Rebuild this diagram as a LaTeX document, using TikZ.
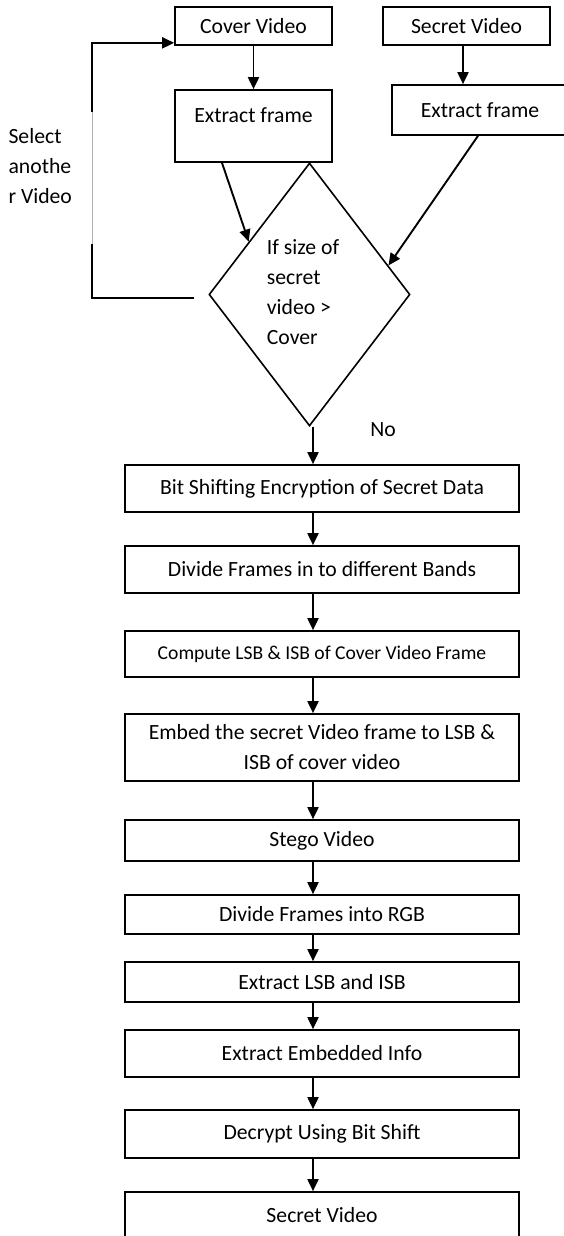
\documentclass[tikz,border=0pt]{standalone}
\usepackage{fontspec}
\setmainfont{Carlito}
\usetikzlibrary{arrows.meta,calc,shapes.geometric}

\begin{document}
\begin{tikzpicture}[x=1pt,y=-1pt,
		box/.style={draw, line width=1.7pt, inner sep=0pt, minimum width=394pt},
		arr/.style={-{Triangle[length=12pt,width=11pt]}, line width=1.9pt},
		txt/.style={font=\fontsize{21.7}{30}\selectfont}]
		\useasboundingbox (0,0) rectangle (563,1236);

		% top row
		\node[box, txt, minimum width=157pt, minimum height=38pt] (cover) at (253.5,26) {Cover Video};
		\node[box, txt, minimum width=167pt, minimum height=38pt] (secret) at (466.5,26) {Secret Video};
		\node[box, minimum width=157pt, minimum height=72pt] (frameL) at (253.5,126) {};
		\node[txt] (frameLtxt) at (253.5,115) {Extract frame};
		\node[box, txt, minimum width=176pt, minimum height=50pt] (frameR) at (480,110) {Extract frame};

		% size check
		\node[draw, diamond, line width=1.6pt, inner sep=0pt, minimum width=201pt, minimum height=263pt] (check) at (309.5,294.5) {};
		\node[txt, align=left] (cond) at (303,292) {If size of\\secret\\video >\\Cover};
		\node[txt, align=left, anchor=west] (reselect) at (5,166) {Select\\anothe\\r Video};
		\node[txt] (no) at (383,430) {No};

		% main column
		\node[box, txt, minimum height=47pt] (encrypt) at (322,488.5) {Bit Shifting Encryption of Secret Data};
		\node[box, txt, minimum height=47pt] (bands) at (322,569.5) {Divide Frames in to different Bands};
		\node[box, minimum height=46pt, font=\fontsize{19.6}{24}\selectfont] (lsb) at (322,654) {Compute LSB \& ISB of Cover Video Frame};
		\node[box, txt, minimum height=67pt, align=center] (embed) at (322,747.5) {Embed the secret Video frame to LSB \&\\ISB of cover video};
		\node[box, txt, minimum height=41pt] (stego) at (322,840.5) {Stego Video};
		\node[box, txt, minimum height=39pt] (rgb) at (322,914.5) {Divide Frames into RGB};
		\node[box, txt, minimum height=40pt] (extract) at (322,982) {Extract LSB and ISB};
		\node[box, txt, minimum height=47pt] (info) at (322,1053.5) {Extract Embedded Info};
		\node[box, txt, minimum height=48pt] (decrypt) at (322,1134) {Decrypt Using Bit Shift};
		\node[box, txt, minimum height=46pt] (recovered) at (322,1215) {Secret Video};

		\coordinate (spine) at (313,0);
		\coordinate (secretX) at (463,0);
		\coordinate (loopEnd) at (194,298);
		\coordinate (loopCorner) at (92,298);

		\draw[arr] (cover) -- (frameL);
		\draw[arr] (secret.south -| secretX) -- (frameR.north -| secretX);
		\draw[arr] ([xshift=-31.5pt]frameL.south) -- ($(check.west)!0.4!(check.north)$);
		\draw[arr] ([xshift=-2pt]frameR.south) -- ($(check.east)!0.22!(check.north)$);

		% back to cover video
		\draw[line width=1.9pt] (loopEnd) -- (loopCorner) -- (92,244);
		\draw[gray!60, line width=0.7pt] (92,244) -- (92,112);
		\draw[arr] (92,112) |- ([yshift=3pt]cover.south west);

		\draw[arr] (check.south -| spine) -- (encrypt.north -| spine);
		\foreach \a/\b in {encrypt/bands, bands/lsb, lsb/embed, embed/stego, stego/rgb, rgb/extract, extract/info, info/decrypt, decrypt/recovered}
			\draw[arr] (\a.south -| spine) -- (\b.north -| spine);
	\end{tikzpicture}
\end{document}
